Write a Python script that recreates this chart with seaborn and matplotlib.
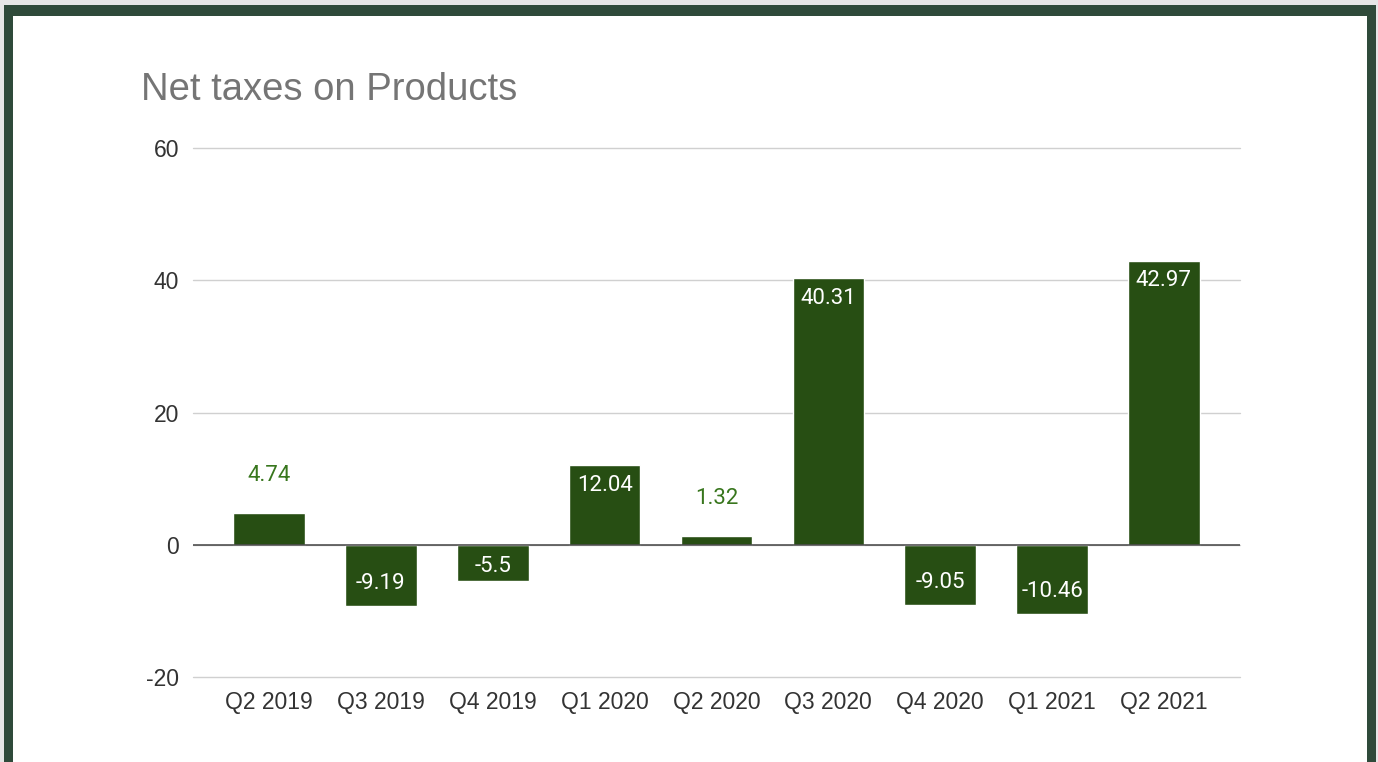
import numpy as np
import pandas as pd
import matplotlib
matplotlib.use("Agg")
import matplotlib.pyplot as plt
import seaborn as sns
from matplotlib.patches import Rectangle

# Dati
quarters = ["Q2 2019", "Q3 2019", "Q4 2019", "Q1 2020", "Q2 2020",
            "Q3 2020", "Q4 2020", "Q1 2021", "Q2 2021"]
net_taxes = [4.74, -9.19, -5.5, 12.04, 1.32, 40.31, -9.05, -10.46, 42.97]
labels = ["4.74", "-9.19", "-5.5", "12.04", "1.32", "40.31", "-9.05", "-10.46", "42.97"]
y_ticks = [-20, 0, 20, 40, 60]

df = pd.DataFrame({"quarter": quarters, "value": net_taxes})

sns.set_style("white")
plt.rcParams["font.family"] = ["Liberation Sans", "DejaVu Sans"]

bar_color = "#274e13"
fig = plt.figure(figsize=(13.78, 7.62), dpi=100)
fig.patch.set_facecolor("#e6e6e6")

# cornice verde scuro e sfondo bianco
fig.patches.append(Rectangle((4 / 1378, -0.01), (1376 - 4) / 1378, 1 - 5 / 762 + 0.01,
                             transform=fig.transFigure, facecolor="#2f4a3a",
                             edgecolor="none", zorder=-3))
fig.patches.append(Rectangle((13 / 1378, -0.01), (1367 - 13) / 1378, 1 - 16 / 762 + 0.01,
                             transform=fig.transFigure, facecolor="white",
                             edgecolor="none", zorder=-2))

ax = fig.add_axes([193 / 1378, 1 - 677 / 762, (1240 - 193) / 1378, (677 - 148) / 762])
ax.set_facecolor("none")

sns.barplot(data=df, x="quarter", y="value", color=bar_color, saturation=1,
            width=0.64, ax=ax, zorder=3)

ax.set_ylim(-20, 60)
ax.set_xlim(-0.68, 8.68)
ax.set_yticks(y_ticks)
ax.set_yticklabels([str(t) for t in y_ticks])
ax.yaxis.grid(True, color="#d0d0d0", linewidth=1)
for gl in ax.get_ygridlines():
    gl.set_clip_on(False)
ax.set_axisbelow(True)
ax.axhline(0, color="#444444", linewidth=1.1, zorder=4)
for s in ax.spines.values():
    s.set_visible(False)
ax.tick_params(axis="both", length=0, labelsize=16.5, labelcolor="#333333")
ax.tick_params(axis="y", pad=10)
ax.tick_params(axis="x", pad=10)
ax.set_xlabel("")
ax.set_ylabel("")

# etichette dei valori
lab_font = ["Roboto", "DejaVu Sans"]
for i, (v, lab) in enumerate(zip(net_taxes, labels)):
    if v > 5:
        ax.annotate(lab, (i, v), xytext=(0, -20), textcoords="offset pixels",
                    ha="center", va="center", color="white", fontsize=16,
                    family=lab_font, zorder=5)
    elif v >= 0:
        ax.annotate(lab, (i, v), xytext=(0, 38), textcoords="offset pixels",
                    ha="center", va="center", color="#38761d", fontsize=16,
                    family=lab_font, zorder=5)
    else:
        off = 15 if v > -7 else 22
        ax.annotate(lab, (i, v), xytext=(0, off), textcoords="offset pixels",
                    ha="center", va="center", color="white", fontsize=16,
                    family=lab_font, zorder=5)

fig.text(141 / 1378, 1 - 90 / 762, "Net taxes on Products", fontsize=27.5,
         color="#757575", ha="left", va="center")

fig.savefig("out.png", dpi=100, facecolor=fig.get_facecolor())
